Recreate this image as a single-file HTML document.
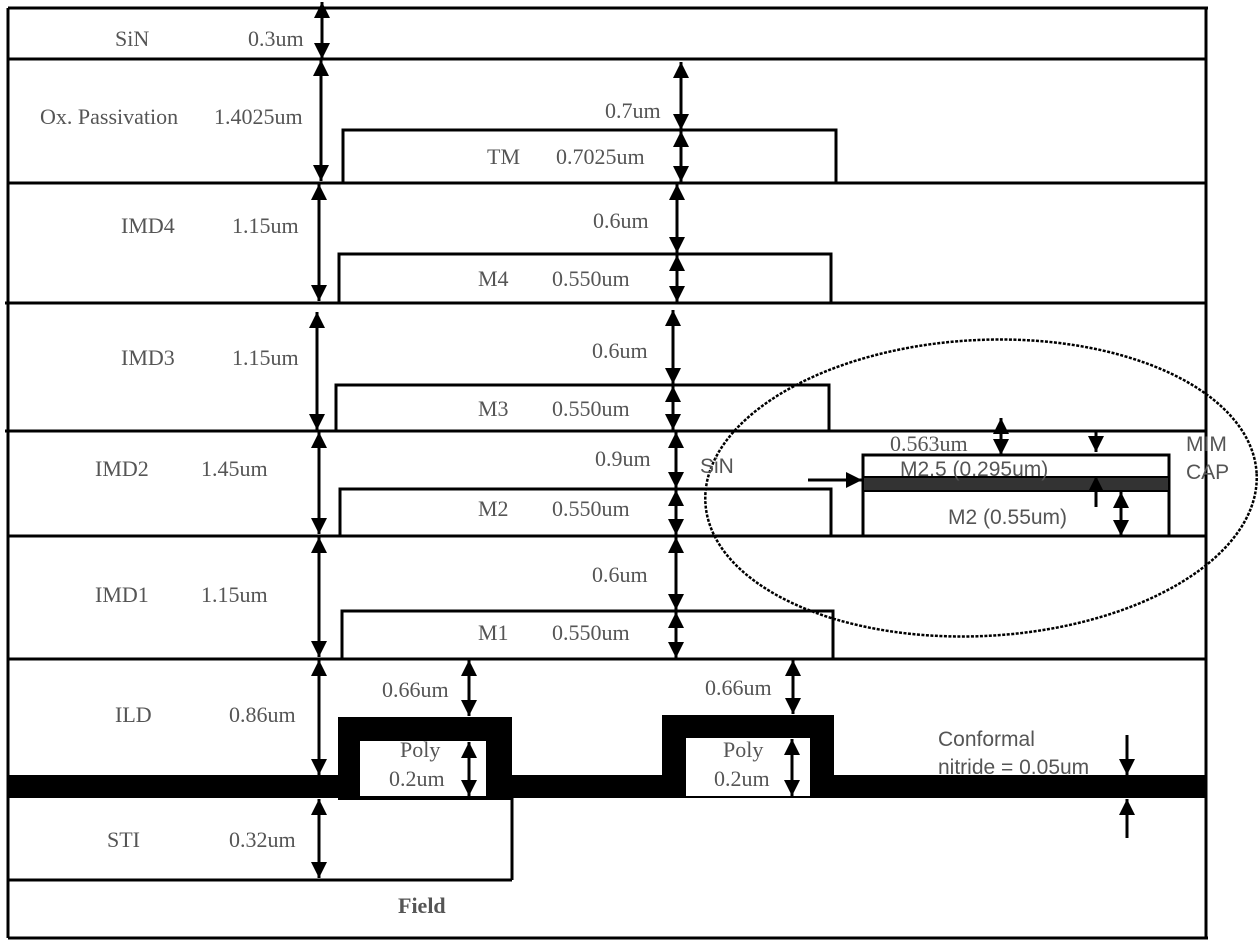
<!DOCTYPE html>
<html><head><meta charset="utf-8"><style>
html,body{margin:0;padding:0;background:#fff;}
svg{display:block}
.t{font-family:"Liberation Serif",serif;font-size:22px;fill:#555;}
.s{font-family:"Liberation Sans",sans-serif;font-size:21px;fill:#555;}
</style></head><body>
<svg width="1260" height="948" viewBox="0 0 1260 948" xmlns="http://www.w3.org/2000/svg">
<defs>
<marker id="b" viewBox="0 0 10 10" refX="10" refY="5" markerWidth="16" markerHeight="16" orient="auto-start-reverse" markerUnits="userSpaceOnUse"><path d="M0,0L10,5L0,10z" fill="#000"/></marker>
</defs>
<g stroke="#000" stroke-width="3" fill="none">
<line x1="8" y1="8" x2="1208" y2="8"/>
<line x1="8" y1="8" x2="8" y2="938"/>
<line x1="1206" y1="8" x2="1206" y2="938"/>
<line x1="8" y1="938" x2="1208" y2="938"/>
<line x1="8" y1="59" x2="1206" y2="59"/>
<line x1="8" y1="183" x2="1206" y2="183"/>
<line x1="5" y1="303" x2="1206" y2="303"/>
<line x1="5" y1="431" x2="1206" y2="431"/>
<line x1="8" y1="536" x2="1206" y2="536"/>
<line x1="8" y1="659" x2="1206" y2="659"/>
<line x1="8" y1="880" x2="512" y2="880"/>
<line x1="512" y1="798" x2="512" y2="880"/>
<polyline points="343,183 343,130 836,130 836,183"/>
<polyline points="339,303 339,254 831,254 831,303"/>
<polyline points="336,431 336,385 829,385 829,431"/>
<polyline points="340,536 340,489 831,489 831,536"/>
<polyline points="342,659 342,611 833,611 833,659"/>
<rect x="863" y="455" width="306" height="81"/>
</g>
<rect x="863" y="477" width="306" height="14" fill="#333" stroke="#000" stroke-width="2"/>
<rect x="8" y="775" width="1198" height="23" fill="#000"/>
<rect x="338" y="717" width="174" height="83" fill="#000"/>
<rect x="360" y="741" width="126" height="55" fill="#fff"/>
<rect x="662" y="715" width="172" height="83" fill="#000"/>
<rect x="686" y="738" width="124" height="58" fill="#fff"/>
<ellipse cx="981" cy="488" rx="276" ry="148" fill="none" stroke="#000" stroke-width="2.5" stroke-dasharray="3,1.5" transform="rotate(-3 981 488)"/>
<g stroke="#000" stroke-width="3" marker-start="url(#b)" marker-end="url(#b)">
<line x1="322" y1="2" x2="322" y2="59"/>
<line x1="321" y1="60" x2="321" y2="181"/>
<line x1="319" y1="184" x2="319" y2="301"/>
<line x1="317" y1="312" x2="317" y2="430"/>
<line x1="319" y1="432" x2="319" y2="534"/>
<line x1="319" y1="537" x2="319" y2="657"/>
<line x1="319" y1="660" x2="319" y2="775"/>
<line x1="319" y1="799" x2="319" y2="878"/>
<line x1="681" y1="62" x2="681" y2="130"/>
<line x1="681" y1="131" x2="681" y2="182"/>
<line x1="677" y1="184" x2="677" y2="253"/>
<line x1="677" y1="255" x2="677" y2="302"/>
<line x1="673" y1="310" x2="673" y2="384"/>
<line x1="673" y1="386" x2="673" y2="430"/>
<line x1="676" y1="432" x2="676" y2="488"/>
<line x1="676" y1="490" x2="676" y2="535"/>
<line x1="676" y1="537" x2="676" y2="610"/>
<line x1="676" y1="612" x2="676" y2="658"/>
<line x1="469" y1="660" x2="469" y2="716"/>
<line x1="793" y1="660" x2="793" y2="714"/>
<line x1="469" y1="742" x2="469" y2="796"/>
<line x1="792" y1="739" x2="792" y2="796"/>
<line x1="1001" y1="418" x2="1001" y2="455"/>
<line x1="1121" y1="492" x2="1121" y2="536"/>
</g>
<g stroke="#000" stroke-width="3" marker-end="url(#b)">
<line x1="1127" y1="735" x2="1127" y2="775"/>
<line x1="1127" y1="838" x2="1127" y2="799"/>
<line x1="1096" y1="430" x2="1096" y2="452"/>
<line x1="1096" y1="507" x2="1096" y2="476"/>
<line x1="808" y1="480" x2="862" y2="480"/>
</g>
<g class="t">
<text x="115" y="46">SiN</text>
<text x="248" y="46">0.3um</text>
<text x="40" y="124">Ox. Passivation</text>
<text x="214" y="124">1.4025um</text>
<text x="605" y="118">0.7um</text>
<text x="487" y="164">TM</text>
<text x="556" y="164">0.7025um</text>
<text x="121" y="233">IMD4</text>
<text x="232" y="233">1.15um</text>
<text x="593" y="228">0.6um</text>
<text x="478" y="286">M4</text>
<text x="552" y="286">0.550um</text>
<text x="121" y="365">IMD3</text>
<text x="232" y="365">1.15um</text>
<text x="592" y="358">0.6um</text>
<text x="478" y="416">M3</text>
<text x="552" y="416">0.550um</text>
<text x="95" y="476">IMD2</text>
<text x="201" y="476">1.45um</text>
<text x="595" y="466">0.9um</text>
<text x="478" y="516">M2</text>
<text x="552" y="516">0.550um</text>
<text x="95" y="602">IMD1</text>
<text x="201" y="602">1.15um</text>
<text x="592" y="582">0.6um</text>
<text x="478" y="640">M1</text>
<text x="552" y="640">0.550um</text>
<text x="382" y="697">0.66um</text>
<text x="705" y="695">0.66um</text>
<text x="115" y="722">ILD</text>
<text x="229" y="722">0.86um</text>
<text x="400" y="757">Poly</text>
<text x="389" y="786">0.2um</text>
<text x="723" y="757">Poly</text>
<text x="714" y="786">0.2um</text>
<text x="107" y="847">STI</text>
<text x="229" y="847">0.32um</text>
<text x="398" y="913" font-weight="bold">Field</text>
<text x="890" y="451">0.563um</text>
</g>
<g class="s">
<text x="700" y="473">SiN</text>
<text x="900" y="476">M2.5 (0.295um)</text>
<text x="948" y="524">M2 (0.55um)</text>
<text x="1186" y="451">MIM</text>
<text x="1186" y="479">CAP</text>
<text x="938" y="746">Conformal</text>
<text x="938" y="774">nitride = 0.05um</text>
</g>
</svg>
</body></html>
